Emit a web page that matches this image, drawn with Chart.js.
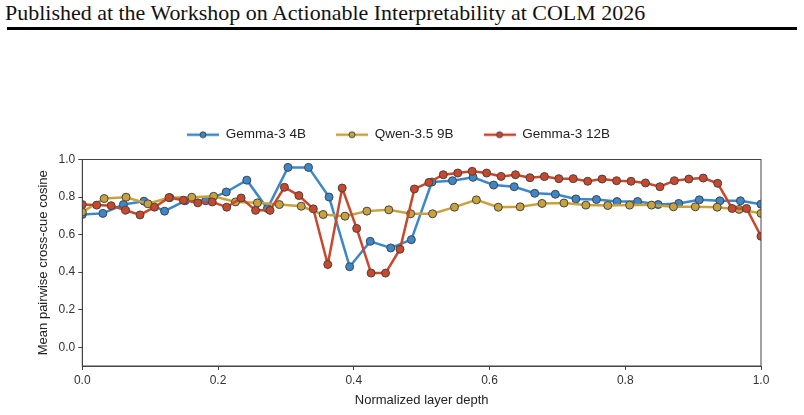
<!DOCTYPE html>
<html>
<head>
<meta charset="utf-8">
<script src="https://cdn.jsdelivr.net/npm/chart.js@4"></script>
<style>
    html, body { margin: 0; padding: 0; background: #fff; }
    #page { position: relative; width: 804px; height: 415px; overflow: hidden; }
    #header { position: absolute; left: 5px; top: 0px; font-family: "Liberation Serif", serif; font-size: 22px; color: #111; white-space: nowrap; transform-origin: left top; }
    #rule { position: absolute; left: 7px; top: 27px; width: 790px; height: 3px; background: #000; }
    #grafico { position: absolute; left: 0; top: 0; }
</style>
</head>
<body>
<div id="page">
    <div id="header">Published at the Workshop on Actionable Interpretability at COLM 2026</div>
    <div id="rule"></div>
    <canvas id="grafico" width="804" height="415"></canvas>
</div>
<script>
// valores (cosseno medio por camada)
const gemma4b = [0.707, 0.713, 0.760, 0.778, 0.725, 0.780, 0.780, 0.827, 0.890, 0.739,
    0.958, 0.958, 0.800, 0.429, 0.564, 0.529, 0.573, 0.880, 0.887, 0.905,
    0.864, 0.855, 0.820, 0.815, 0.790, 0.787, 0.776, 0.776, 0.760, 0.766,
    0.785, 0.780, 0.780, 0.762];

const qwen9b = [0.720, 0.792, 0.799, 0.764, 0.797, 0.799, 0.804, 0.774, 0.769, 0.760,
    0.751, 0.707, 0.698, 0.725, 0.732, 0.711, 0.711, 0.746, 0.785, 0.746,
    0.748, 0.766, 0.768, 0.757, 0.755, 0.757, 0.757, 0.748, 0.748, 0.746,
    0.734, 0.713];

const gemma12b = [0.760, 0.757, 0.754, 0.730, 0.705, 0.746, 0.797, 0.783, 0.769, 0.774,
    0.746, 0.795, 0.729, 0.729, 0.852, 0.808, 0.737, 0.441, 0.848, 0.633,
    0.395, 0.395, 0.522, 0.843, 0.878, 0.919, 0.928, 0.937, 0.928, 0.910,
    0.919, 0.903, 0.909, 0.898, 0.898, 0.884, 0.896, 0.887, 0.884, 0.875,
    0.855, 0.887, 0.896, 0.901, 0.873, 0.739, 0.739, 0.591];

const nomes = ['Gemma-3 4B', 'Qwen-3.5 9B', 'Gemma-3 12B'];
const cores = ['#3b87c9', '#c9a23e', '#c9472b'];
const yTicks = [0.0, 0.2, 0.4, 0.6, 0.8, 1.0];

// profundidade normalizada: camada i de n -> i/(n-1)
function porProfundidade(valores) {
    return valores.map(function (v, i) {
        return { x: i / (valores.length - 1), y: v };
    });
}

function iconeLegenda(cor) {
    var c = document.createElement('canvas');
    c.width = 32;
    c.height = 10;
    var ctx = c.getContext('2d');
    ctx.strokeStyle = cor;
    ctx.lineWidth = 2.5;
    ctx.beginPath();
    ctx.moveTo(0, 5);
    ctx.lineTo(32, 5);
    ctx.stroke();
    ctx.beginPath();
    ctx.arc(16, 5, 3, 0, Math.PI * 2);
    ctx.fillStyle = cor;
    ctx.fill();
    ctx.lineWidth = 1;
    ctx.strokeStyle = '#444';
    ctx.stroke();
    return c;
}
const icones = cores.map(iconeLegenda);

function serie(idx, valores, ordem) {
    return {
        label: nomes[idx],
        data: porProfundidade(valores),
        borderColor: cores[idx],
        backgroundColor: cores[idx],
        borderWidth: 2.5,
        pointRadius: 4,
        pointStyle: 'circle',
        pointBackgroundColor: cores[idx],
        pointBorderColor: '#444',
        pointBorderWidth: 1,
        tension: 0,
        fill: false,
        order: ordem
    };
}

// ajusta o cabecalho a largura do original
var header = document.getElementById('header');
header.style.transform = 'scaleX(' + (640 / header.offsetWidth) + ')';

// moldura completa (spines de cima e direita)
const moldura = {
    id: 'moldura',
    afterDatasetsDraw: function (chart) {
        var a = chart.chartArea;
        var ctx = chart.ctx;
        ctx.save();
        ctx.strokeStyle = '#444';
        ctx.lineWidth = 1;
        ctx.strokeRect(a.left, a.top, a.right - a.left, a.bottom - a.top);
        ctx.restore();
    }
};

// espaco extra abaixo da legenda
const espacoLegenda = {
    id: 'espacoLegenda',
    beforeInit: function (chart) {
        var fitOriginal = chart.legend.fit;
        chart.legend.fit = function () {
            fitOriginal.bind(chart.legend)();
            this.height += 8;
        };
    }
};

Chart.defaults.font.family = '"Liberation Sans", Arial, sans-serif';
Chart.defaults.color = '#333';

var ctxGrafico = document.getElementById('grafico').getContext('2d');
var grafico = new Chart(ctxGrafico, {
    type: 'line',
    data: {
        datasets: [
            serie(0, gemma4b, 3),
            serie(1, qwen9b, 2),
            serie(2, gemma12b, 1)
        ]
    },
    options: {
        responsive: false,
        animation: false,
        devicePixelRatio: 1,
        layout: { padding: { left: 36, right: 43, top: 98, bottom: 7 } },
        plugins: {
            tooltip: { enabled: false },
            legend: {
                position: 'top',
                labels: {
                    usePointStyle: true,
                    pointStyleWidth: 32,
                    padding: 30,
                    color: '#222',
                    font: { size: 13.5 },
                    sort: function (a, b) { return a.datasetIndex - b.datasetIndex; },
                    generateLabels: function (chart) {
                        var itens = Chart.defaults.plugins.legend.labels.generateLabels(chart);
                        itens.forEach(function (item) {
                            item.pointStyle = icones[item.datasetIndex];
                        });
                        return itens;
                    }
                }
            }
        },
        scales: {
            x: {
                type: 'linear',
                min: 0,
                max: 1,
                grid: { drawOnChartArea: false, drawTicks: true, tickLength: 4, color: '#444' },
                border: { color: '#444', width: 1 },
                ticks: {
                    stepSize: 0.2,
                    padding: 3,
                    font: { size: 12 },
                    callback: function (v) { return v.toFixed(1); }
                },
                title: { display: true, text: 'Normalized layer depth', color: '#222', font: { size: 13 }, padding: { top: 2, bottom: 0 } }
            },
            y: {
                min: -0.1,
                max: 1.0,
                afterBuildTicks: function (eixo) {
                    eixo.ticks = yTicks.map(function (v) { return { value: v }; });
                },
                grid: { drawOnChartArea: false, drawTicks: true, tickLength: 4, color: '#444' },
                border: { color: '#444', width: 1 },
                ticks: {
                    padding: 3,
                    font: { size: 12 },
                    callback: function (v) { return v.toFixed(1); }
                },
                title: { display: true, text: 'Mean pairwise cross-cue cosine', color: '#222', font: { size: 13 }, padding: { top: 0, bottom: 4 } }
            }
        }
    },
    plugins: [moldura, espacoLegenda]
});
</script>
</body>
</html>
